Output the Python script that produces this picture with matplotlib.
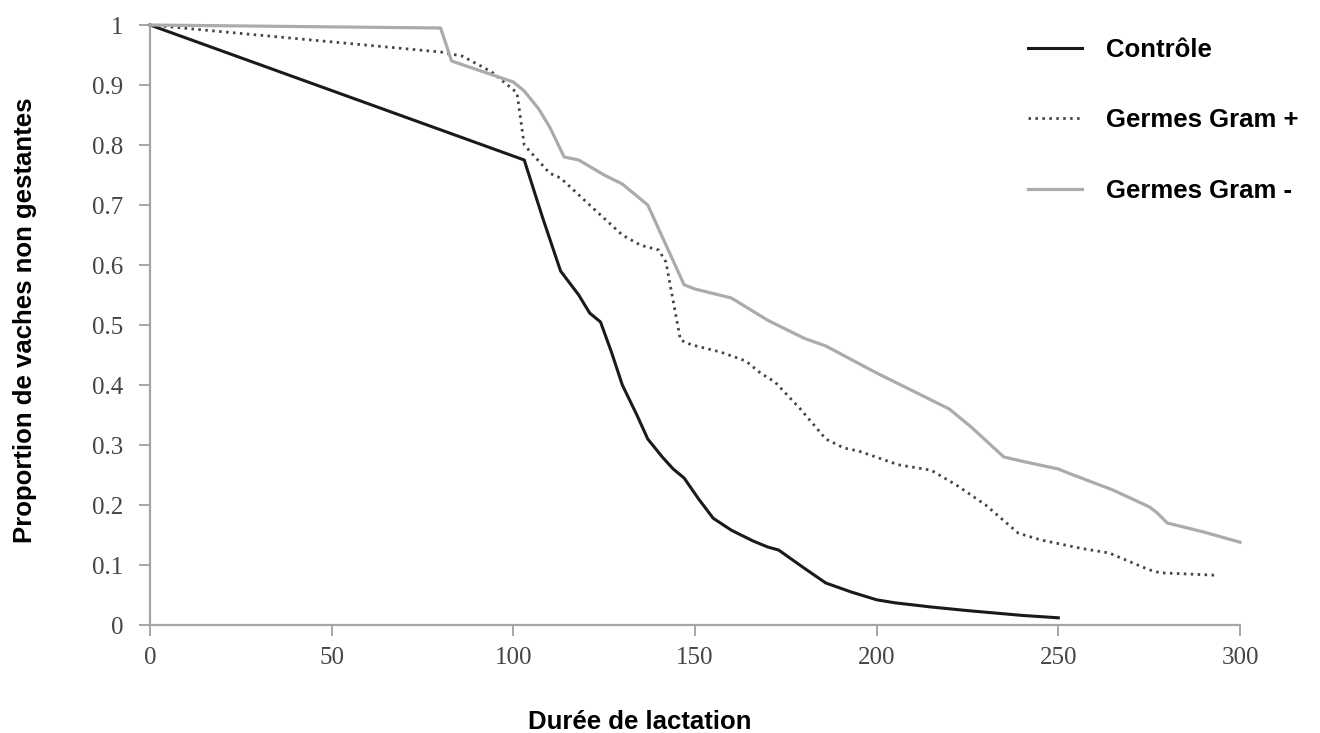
import matplotlib
matplotlib.use("Agg")
import matplotlib.pyplot as plt

# Courbes de survie (proportion de vaches non gestantes)
controle_x = [0, 103, 108, 113, 118, 121, 124, 127, 130, 134, 137, 141, 144, 147, 151, 155,
              160, 166, 170, 173, 180, 186, 193, 200, 205, 215, 225, 240, 250]
controle_y = [1.0, 0.775, 0.68, 0.59, 0.55, 0.52, 0.505, 0.455, 0.40, 0.35, 0.31, 0.28,
              0.26, 0.245, 0.21, 0.178, 0.158, 0.14, 0.13, 0.125, 0.095, 0.07, 0.055,
              0.042, 0.037, 0.03, 0.024, 0.016, 0.012]

gram_pos_x = [0, 80, 86, 94, 101, 103, 110, 113, 121, 130, 135, 140, 142, 146, 149,
              157, 164, 168, 172, 179, 186, 191, 195, 206, 215, 222, 230, 239, 245,
              256, 264, 275, 278, 293]
gram_pos_y = [1.0, 0.955, 0.948, 0.922, 0.887, 0.80, 0.753, 0.745, 0.70, 0.65, 0.633,
              0.625, 0.605, 0.475, 0.467, 0.455, 0.44, 0.42, 0.405, 0.36, 0.31, 0.295,
              0.29, 0.267, 0.258, 0.233, 0.20, 0.153, 0.142, 0.128, 0.12, 0.092, 0.087,
              0.083]

gram_neg_x = [0, 80, 83, 100, 103, 107, 110, 114, 118, 125, 130, 135, 137, 147, 150,
              160, 170, 180, 186, 200, 210, 220, 226, 235, 240, 250, 252, 265, 275,
              277, 280, 290, 300]
gram_neg_y = [1.0, 0.995, 0.94, 0.905, 0.89, 0.86, 0.83, 0.78, 0.775, 0.75, 0.735,
              0.71, 0.70, 0.567, 0.56, 0.545, 0.508, 0.478, 0.465, 0.42, 0.39, 0.36,
              0.33, 0.28, 0.273, 0.26, 0.255, 0.225, 0.197, 0.188, 0.17, 0.155, 0.138]

x_ticks = [0, 50, 100, 150, 200, 250, 300]
y_ticks = [0, 0.1, 0.2, 0.3, 0.4, 0.5, 0.6, 0.7, 0.8, 0.9, 1]
y_tick_labels = ["0", "0.1", "0.2", "0.3", "0.4", "0.5", "0.6", "0.7", "0.8", "0.9", "1"]

fig = plt.figure(figsize=(13.2, 7.33), dpi=100)
ax = fig.add_axes([150 / 1320, 1 - 625 / 733, 1090 / 1320, 600 / 733])

ax.plot(controle_x, controle_y, color="#1a1a1a", lw=2.2, label="Contrôle", clip_on=False)
ax.plot(gram_pos_x, gram_pos_y, color="#444444", lw=2.0, linestyle=(0, (0.9, 1.6)),
        label="Germes Gram +", clip_on=False)
ax.plot(gram_neg_x, gram_neg_y, color="#ababab", lw=2.3, label="Germes Gram -", clip_on=False)

ax.set_xlim(0, 300)
ax.set_ylim(0, 1)
ax.set_xticks(x_ticks)
ax.set_yticks(y_ticks)
ax.set_yticklabels(y_tick_labels)

for side in ["top", "right"]:
    ax.spines[side].set_visible(False)
for side in ["left", "bottom"]:
    ax.spines[side].set_color("#a6a6a6")
    ax.spines[side].set_linewidth(1.6)

ax.tick_params(axis="both", direction="out", length=8, width=1.4, color="#a6a6a6",
               labelcolor="#454545", labelsize=18)
ax.tick_params(axis="y", pad=11)
ax.tick_params(axis="x", pad=8)
for lab in ax.get_xticklabels() + ax.get_yticklabels():
    lab.set_fontfamily("Liberation Serif")

fig.text(640 / 1320, 1 - 722 / 733, "Durée de lactation", ha="center", va="center",
         fontsize=18.5, fontweight="bold", family="Liberation Sans")
fig.text(25 / 1320, 1 - 320 / 733, "Proportion de vaches non gestantes", ha="center",
         va="center", rotation=90, fontsize=18.5, fontweight="bold", family="Liberation Sans")

fig.legend(loc="upper left", bbox_to_anchor=(1028 / 1320, 1 - 38 / 733), frameon=False,
           borderpad=0, borderaxespad=0, handlelength=2.1, handletextpad=0.95,
           labelspacing=1.8, prop={"family": "Liberation Sans", "weight": "bold", "size": 18.5})

fig.savefig("out.png", dpi=100, facecolor="white")
